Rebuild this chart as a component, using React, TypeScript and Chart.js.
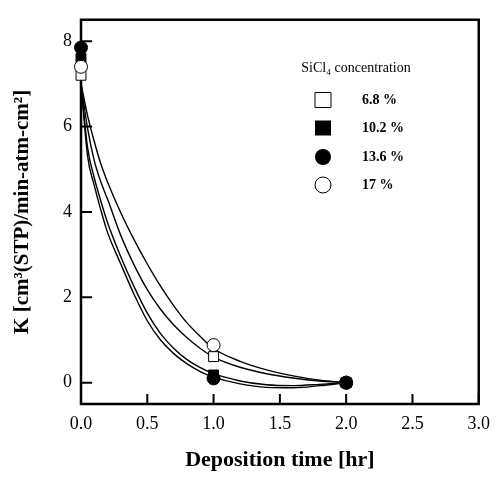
import React, { useEffect, useRef } from "react";
import { Chart, registerables } from "chart.js";
Chart.register(...registerables);

const SERIF = "'Liberation Serif', 'Times New Roman', serif";

// Measured data (deposition time, K)
const seriesLabels = ["6.8 %", "10.2 %", "13.6 %", "17 %"];
const legendTitle = "SiCl\u2084 concentration";
const sampleTimes = [0, 1, 2];
const k68 = [7.2, 0.61, 0];
const k102 = [7.6, 0.18, 0];
const k136 = [7.85, 0.1, 0];
const k17 = [7.4, 0.88, 0];

// Fitted curves at these times
const curveX = [0, 0.05, 0.1, 0.15, 0.2, 0.3, 0.4, 0.5, 0.6, 0.7, 0.8, 0.9, 1.0, 1.2, 1.4, 1.6, 1.8, 2.0];
const curve68Y = [7.0, 5.95, 5.2, 4.7, 4.3, 3.45, 2.76, 2.18, 1.72, 1.35, 1.05, 0.8, 0.6, 0.36, 0.21, 0.11, 0.04, 0];
const curve102Y = [7.0, 5.5, 4.8, 4.25, 3.75, 2.95, 2.25, 1.63, 1.15, 0.8, 0.54, 0.35, 0.21, 0.04, -0.05, -0.07, -0.04, 0];
const curve136Y = [7.0, 5.3, 4.62, 4.04, 3.52, 2.78, 2.07, 1.45, 1.0, 0.68, 0.44, 0.26, 0.13, -0.03, -0.11, -0.12, -0.07, 0];
const curve17Y = [7.0, 6.25, 5.65, 5.12, 4.7, 3.98, 3.35, 2.78, 2.26, 1.8, 1.4, 1.08, 0.8, 0.5, 0.3, 0.16, 0.06, 0];

const xTicks = [0, 0.5, 1, 1.5, 2, 2.5, 3];
const yTicks = [0, 2, 4, 6, 8];

const zip = (xs: number[], ys: number[]) => xs.map((x, i) => ({ x, y: ys[i] }));

const framePlugin = {
  id: "frame",
  beforeDatasetsDraw(chart: any) {
    const { ctx, chartArea: a, scales } = chart;
    ctx.save();
    ctx.strokeStyle = "#000";
    ctx.lineWidth = 2.5;
    ctx.beginPath();
    ctx.rect(a.left, a.top, a.right - a.left, a.bottom - a.top);
    ctx.stroke();
    ctx.lineWidth = 2;
    ctx.beginPath();
    for (const v of xTicks) {
      const px = scales.x.getPixelForValue(v);
      ctx.moveTo(px, a.bottom);
      ctx.lineTo(px, a.bottom - 10);
    }
    for (const v of yTicks) {
      const py = scales.y.getPixelForValue(v);
      ctx.moveTo(a.left, py);
      ctx.lineTo(a.left + 11, py);
    }
    ctx.stroke();
    ctx.restore();
  },
  afterDraw(chart: any) {
    const { ctx } = chart;
    ctx.save();
    ctx.fillStyle = "#000";
    ctx.strokeStyle = "#000";
    ctx.textBaseline = "middle";
    ctx.textAlign = "center";
    ctx.font = `14px ${SERIF}`;
    ctx.fillText(legendTitle, 356, 68);
    const rows = [100, 128, 157, 185];
    const mx = 323;
    ctx.lineWidth = 1;
    rows.forEach((ry, i) => {
      ctx.beginPath();
      if (i < 2) {
        ctx.rect(mx - 8, ry - 7.5, 16, 15);
      } else {
        ctx.arc(mx, ry, 8, 0, Math.PI * 2);
      }
      if (i === 1 || i === 2) {
        ctx.fillStyle = "#000";
        ctx.fill();
      } else {
        ctx.fillStyle = "#fff";
        ctx.fill();
        ctx.stroke();
      }
    });
    ctx.fillStyle = "#000";
    ctx.textAlign = "left";
    ctx.font = `bold 14px ${SERIF}`;
    rows.forEach((ry, i) => ctx.fillText(seriesLabels[i], 362, ry));
    ctx.restore();
  },
};

export default function App() {
  const ref = useRef<HTMLCanvasElement | null>(null);
  useEffect(() => {
    if (!ref.current) return;
    const curveStyle = {
      showLine: true,
      pointRadius: 0,
      borderColor: "#000",
      borderWidth: 1.4,
      cubicInterpolationMode: "monotone" as const,
      fill: false,
      order: 10,
      clip: false as any,
    };
    const markerBase = {
      showLine: false,
      borderColor: "#000",
      borderWidth: 1,
      clip: false as any,
    };
    const chart = new Chart(ref.current, {
      type: "line",
      data: {
        datasets: [
          { ...curveStyle, label: "fit 6.8", data: zip(curveX, curve68Y) },
          { ...curveStyle, label: "fit 10.2", data: zip(curveX, curve102Y) },
          { ...curveStyle, label: "fit 13.6", data: zip(curveX, curve136Y) },
          { ...curveStyle, label: "fit 17", data: zip(curveX, curve17Y) },
          { ...markerBase, label: seriesLabels[0], data: zip(sampleTimes, k68), pointStyle: "rect", pointRadius: 7, backgroundColor: "#fff", order: 3 },
          { ...markerBase, label: seriesLabels[1], data: zip(sampleTimes, k102), pointStyle: "rect", pointRadius: 7, backgroundColor: "#000", order: 2 },
          { ...markerBase, label: seriesLabels[2], data: zip(sampleTimes, k136), pointStyle: "circle", pointRadius: 6.5, backgroundColor: "#000", order: 0 },
          { ...markerBase, label: seriesLabels[3], data: zip(sampleTimes, k17), pointStyle: "circle", pointRadius: 6.5, backgroundColor: "#fff", order: 1 },
        ] as any,
      },
      options: {
        animation: false,
        responsive: false,
        devicePixelRatio: 1,
        layout: { padding: { left: 0, top: 7, right: 20, bottom: 0 } },
        plugins: { legend: { display: false }, tooltip: { enabled: false } },
        scales: {
          x: {
            type: "linear",
            min: 0,
            max: 3,
            afterBuildTicks: (s: any) => {
              s.ticks = xTicks.map((v) => ({ value: v }));
            },
            afterFit: (s: any) => {
              s.height = 80;
            },
            grid: { display: false, drawTicks: false },
            border: { display: false },
            ticks: {
              color: "#000",
              padding: 9,
              maxRotation: 0,
              font: { family: SERIF, size: 18 },
              callback: (v: any) => Number(v).toFixed(1),
            },
            title: {
              display: true,
              text: "Deposition time [hr]",
              color: "#000",
              font: { family: SERIF, size: 22, weight: "bold" },
              padding: { top: 0, bottom: 10 },
            },
          },
          y: {
            type: "linear",
            min: -0.5,
            max: 8.5,
            afterBuildTicks: (s: any) => {
              s.ticks = yTicks.map((v) => ({ value: v }));
            },
            afterFit: (s: any) => {
              s.width = 81;
            },
            grid: { display: false, drawTicks: false },
            border: { display: false },
            ticks: {
              color: "#000",
              padding: 9,
              font: { family: SERIF, size: 18 },
              callback: (v: any) => String(v),
            },
            title: {
              display: true,
              text: "K [cm\u00B3(STP)/min-atm-cm\u00B2]",
              color: "#000",
              font: { family: SERIF, size: 21, weight: "bold" },
              padding: { top: 10, bottom: 0 },
            },
          },
        },
      },
      plugins: [framePlugin],
    });
    return () => chart.destroy();
  }, []);
  return (
    <div style={{ position: "fixed", left: 0, top: 0, width: 499, height: 484, background: "#fff" }}>
      <canvas ref={ref} width={499} height={484} style={{ width: 499, height: 484, display: "block" }} />
    </div>
  );
}
